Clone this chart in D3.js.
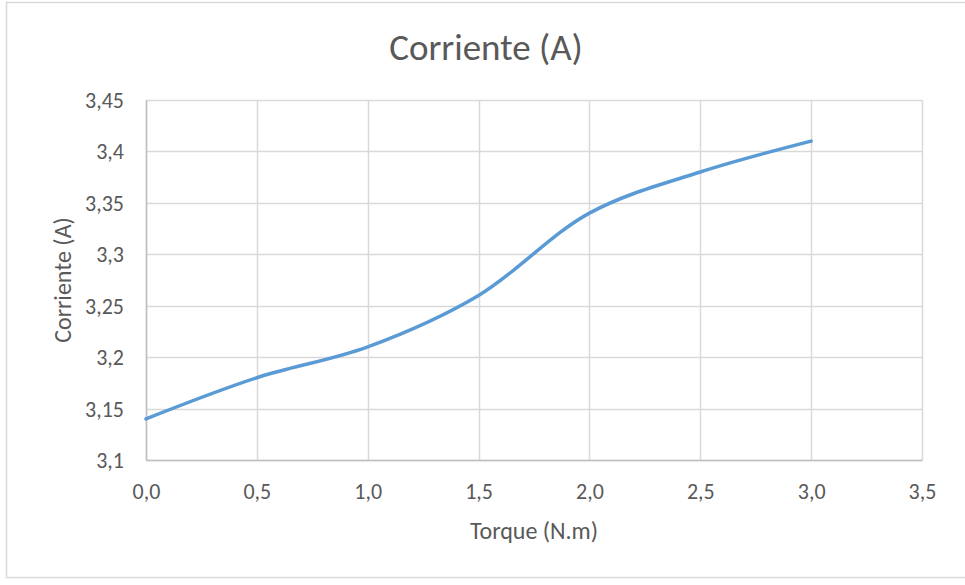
<!DOCTYPE html>
<html>
<head>
<meta charset="utf-8">
<script src="https://cdn.jsdelivr.net/npm/d3@7"></script>
<style>
  html, body { margin: 0; padding: 0; background: #fff; }
  svg { display: block; }
  text { font-family: Carlito, "Open Sans", "Noto Sans", sans-serif; fill: #595959; }
</style>
</head>
<body>
<script>
// Current drawn by the motor at each load torque
const torque = [0.0, 0.5, 1.0, 1.5, 2.0, 2.5, 3.0];
const current = [3.14, 3.18, 3.21, 3.26, 3.34, 3.38, 3.41];
const xTicks = [0.0, 0.5, 1.0, 1.5, 2.0, 2.5, 3.0, 3.5];
const yTicks = [3.1, 3.15, 3.2, 3.25, 3.3, 3.35, 3.4, 3.45];
const chartTitle = "Corriente (A)";
const xTitle = "Torque (N.m)";
const yTitle = "Corriente (A)";

const W = 965, H = 585;
const plot = { left: 146, right: 922, top: 100, bottom: 460 };

const svg = d3.select("body").append("svg").attr("width", W).attr("height", H);

// chart frame
svg.append("rect")
  .attr("x", 6.5).attr("y", 2.5).attr("width", 970).attr("height", 575)
  .attr("fill", "#fff").attr("stroke", "#d9d9d9").attr("stroke-width", 1.5);

const x = d3.scaleLinear().domain([0, 3.5]).range([plot.left, plot.right]);
const y = d3.scaleLinear().domain([3.1, 3.45]).range([plot.bottom, plot.top]);

const xFmt = (v) => d3.format(".1f")(v).replace(".", ",");
const yFmt = (v) => String(+v.toFixed(2)).replace(".", ",");

// gridlines
const grid = svg.append("g");
grid.selectAll("line.h").data(yTicks).join("line")
  .attr("x1", plot.left).attr("x2", plot.right)
  .attr("y1", d => Math.round(y(d)) + 0.5).attr("y2", d => Math.round(y(d)) + 0.5)
  .attr("stroke", "#d9d9d9").attr("stroke-width", 1.5);
grid.selectAll("line.v").data(xTicks).join("line")
  .attr("y1", plot.top).attr("y2", plot.bottom)
  .attr("x1", d => Math.round(x(d)) + 0.5).attr("x2", d => Math.round(x(d)) + 0.5)
  .attr("stroke", "#d9d9d9").attr("stroke-width", 1.5);

// axes
const xAxis = d3.axisBottom(x).tickValues(xTicks).tickFormat(xFmt).tickSize(0).tickPadding(23);
const yAxis = d3.axisLeft(y).tickValues(yTicks).tickFormat(yFmt).tickSize(0).tickPadding(22);

const gx = svg.append("g").attr("transform", `translate(0,${plot.bottom})`).call(xAxis);
gx.select(".domain").attr("stroke", "#bfbfbf").attr("stroke-width", 1.5);
gx.selectAll("text").attr("font-size", 22).attr("dy", "0.71em").attr("y", 23);

const gy = svg.append("g").attr("transform", `translate(${plot.left},0)`).call(yAxis);
gy.select(".domain").attr("stroke", "#bfbfbf").attr("stroke-width", 1.5);
gy.selectAll("text").attr("font-size", 22).attr("dy", "0.34em");

// series line, smoothed
const line = d3.line()
  .x((d, i) => x(torque[i]))
  .y(d => y(d))
  .curve(d3.curveCatmullRom.alpha(0.5));

svg.append("path")
  .datum(current)
  .attr("d", line)
  .attr("fill", "none")
  .attr("stroke", "#5b9bd5")
  .attr("stroke-width", 3.5)
  .attr("stroke-linecap", "round");

// titles
svg.append("text")
  .attr("x", 486).attr("y", 60)
  .attr("text-anchor", "middle")
  .attr("font-size", 37)
  .text(chartTitle);

svg.append("text")
  .attr("x", (plot.left + plot.right) / 2).attr("y", 539)
  .attr("text-anchor", "middle")
  .attr("font-size", 24)
  .text(xTitle);

svg.append("text")
  .attr("transform", `translate(71,${(plot.top + plot.bottom) / 2}) rotate(-90)`)
  .attr("text-anchor", "middle")
  .attr("font-size", 24)
  .text(yTitle);
</script>
</body>
</html>
